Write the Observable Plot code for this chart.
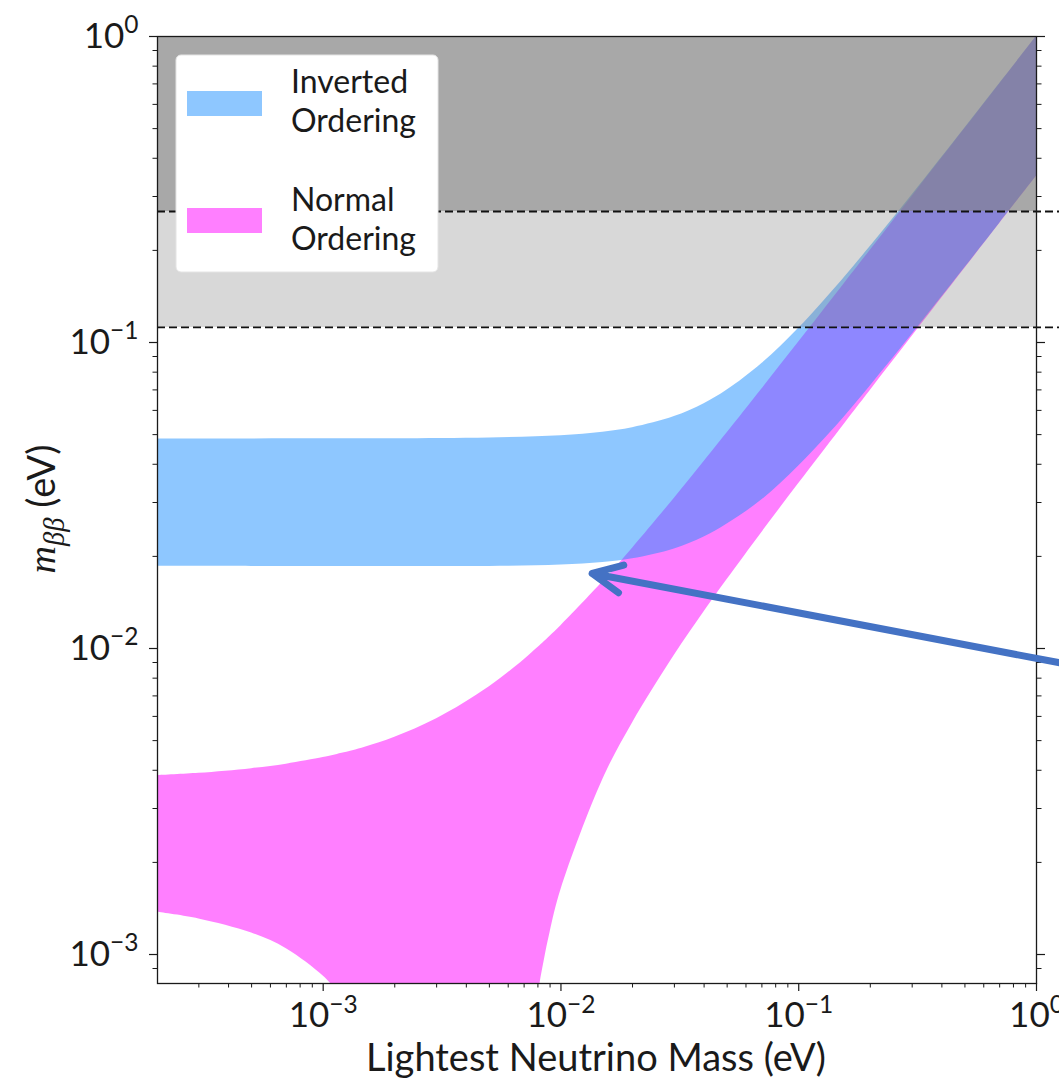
<!DOCTYPE html>
<html>
<head>
<meta charset="utf-8">
<script src="https://cdn.jsdelivr.net/npm/d3@7"></script>
<script src="https://cdn.jsdelivr.net/npm/@observablehq/plot@0.6"></script>
<style>
  html, body { margin: 0; padding: 0; background: #fff; overflow: hidden; }
  #chart { position: relative; width: 1059px; height: 1080px; }
</style>
</head>
<body>
<div id="chart"></div>
<script>
// Normal ordering: lightest neutrino mass (eV) with lower / upper m_ββ (eV)
const massNO  = [2e-4, 3e-4, 5e-4, 7e-4, 1e-3, 1.1e-3, 1.2e-3, 1.5e-3, 2e-3, 3e-3, 5e-3, 7e-3, 8e-3, 8.5e-3, 9e-3, 1e-2, 1.5e-2, 2e-2, 3e-2, 4e-2, 5e-2, 7e-2, 0.1, 0.15, 0.2, 0.3, 0.5, 0.7, 1];
const upperNO = [3.844e-3, 3.912e-3, 4.050e-3, 4.189e-3, 4.401e-3, 4.472e-3, 4.544e-3, 4.760e-3, 5.128e-3, 5.889e-3, 7.496e-3, 9.197e-3, 1.0074e-2, 1.0518e-2, 1.0966e-2, 1.1869e-2, 1.6513e-2, 2.1282e-2, 3.0989e-2, 4.0806e-2, 5.0679e-2, 7.0513e-2, 0.10037, 0.15025, 0.20019, 0.30013, 0.50008, 0.70006, 1.00004];
// below the axis floor the band reaches zero; 1e-4 stands in for it
const lowerNO = [1.374e-3, 1.307e-3, 1.175e-3, 1.044e-3, 8.51e-4, 7.87e-4, 7.24e-4, 5.35e-4, 2.27e-4, 1e-4, 1e-4, 2.5e-4, 7.23e-4, 9.53e-4, 1.181e-3, 1.627e-3, 3.731e-3, 5.710e-3, 9.499e-3, 1.3178e-2, 1.680e-2, 2.396e-2, 3.459e-2, 5.219e-2, 6.973e-2, 0.10475, 0.17472, 0.24467, 0.34956];

// Inverted ordering
const massIO  = [2e-4, 5e-4, 1e-3, 2e-3, 5e-3, 1e-2, 1.5e-2, 2e-2, 3e-2, 4e-2, 5e-2, 7e-2, 0.1, 0.15, 0.2, 0.3, 0.5, 0.7, 1];
const upperIO = [0.04840, 0.04841, 0.04843, 0.04848, 0.04875, 0.04959, 0.05090, 0.05264, 0.05725, 0.06311, 0.06990, 0.08538, 0.11132, 0.15778, 0.20590, 0.30396, 0.50239, 0.70171, 1.00120];
const lowerIO = [0.01856, 0.01855, 0.01855, 0.01854, 0.01855, 0.01873, 0.01909, 0.01963, 0.02115, 0.02315, 0.02551, 0.03060, 0.03950, 0.05530, 0.07209, 0.10634, 0.17568, 0.24535, 0.35004];

// Experimental limits on m_ββ (eV)
const limits = [0.112, 0.268];

// Axis decades and legend entries
const xDecades = [1e-3, 1e-2, 1e-1, 1];
const yDecades = [1e-3, 1e-2, 1e-1, 1];
const legendEntries = [["Inverted", "Ordering"], ["Normal", "Ordering"]];

// Annotation arrow (data units): tail off to the right, tip at the IO/NO junction
const pointer = [{x1: 1.55, y1: 0.0087, x2: 0.01353, y2: 0.01759}];

const colorIO = "#1e90ff";
const colorNO = "#ff00ff";
const xDomain = [2.01e-4, 1];
const yDomain = [8.04e-4, 1];

function minorTicks([lo, hi]) {
  const out = [];
  for (let k = Math.floor(Math.log10(lo)); k < Math.ceil(Math.log10(hi)); k++) {
    for (let m = 2; m <= 9; m++) {
      const v = m * Math.pow(10, k);
      if (v >= lo && v <= hi) out.push(v);
    }
  }
  return out;
}
const expLabel = d => String(Math.round(Math.log10(d))).replace("-", "\u2212");
const blank = () => "";

const no = massNO.map((m, i) => ({m, lo: lowerNO[i], hi: upperNO[i]}));
const io = massIO.map((m, i) => ({m, lo: lowerIO[i], hi: upperIO[i]}));

const plot = Plot.plot({
  width: 1059,
  height: 1080,
  marginLeft: 157,
  marginRight: 23,
  marginTop: 36,
  marginBottom: 97,
  x: {type: "log", domain: xDomain, axis: null},
  y: {type: "log", domain: yDomain, axis: null},
  style: {fontFamily: "Lato, sans-serif", color: "#1a1a1a", background: "white"},
  marks: [
    Plot.areaY(no, {x: "m", y1: "lo", y2: "hi", fill: colorNO, fillOpacity: 0.5, curve: "catmull-rom", clip: true}),
    Plot.areaY(io, {x: "m", y1: "lo", y2: "hi", fill: colorIO, fillOpacity: 0.5, curve: "catmull-rom", clip: true}),
    Plot.rect([0], {x1: xDomain[0], x2: xDomain[1], y1: limits[0], y2: limits[1], fill: "#808080", fillOpacity: 0.307}),
    Plot.rect([0], {x1: xDomain[0], x2: xDomain[1], y1: limits[1], y2: yDomain[1], fill: "#808080", fillOpacity: 0.685}),
    Plot.ruleY(limits, {x1: xDomain[0], x2: 1.4, stroke: "#111", strokeWidth: 1.8, strokeDasharray: "8,4"}),
    Plot.axisX(xDecades, {anchor: "bottom", tickSize: 8, tickPadding: 11, fontSize: 35, tickFormat: expLabel, label: null, strokeWidth: 1.2}),
    Plot.axisX(minorTicks(xDomain), {anchor: "bottom", tickSize: 4.5, tickFormat: blank, label: null, strokeWidth: 1}),
    Plot.axisY(yDecades, {anchor: "left", tickSize: 8, tickPadding: 11, fontSize: 35, tickFormat: expLabel, label: null, strokeWidth: 1.2}),
    Plot.axisY(minorTicks(yDomain), {anchor: "left", tickSize: 4.5, tickFormat: blank, label: null, strokeWidth: 1}),
    Plot.axisY(yDecades, {anchor: "right", tickSize: 8, tickFormat: blank, label: null, strokeWidth: 1.2}),
    Plot.axisY(minorTicks(yDomain), {anchor: "right", tickSize: 4.5, tickFormat: blank, label: null, strokeWidth: 1}),
    Plot.frame({stroke: "#1a1a1a", strokeWidth: 1.3}),
    Plot.arrow(pointer, {x1: "x1", y1: "y1", x2: "x2", y2: "y2", stroke: "#4472c4", strokeWidth: 7, headLength: 7, headAngle: 51, strokeLinecap: "round", strokeLinejoin: "round"})
  ]
});

const svg = d3.select(plot);

// Tick labels as powers of ten with a raised exponent
svg.selectAll('g[aria-label="x-axis tick label"] text, g[aria-label="y-axis tick label"] text').each(function () {
  const e = this.textContent;
  if (!e) return;
  const t = d3.select(this);
  t.text(null);
  t.append("tspan").text("10");
  t.append("tspan").attr("font-size", "0.7em").attr("dy", "-0.6em").text(e);
});

// Axis titles
svg.append("text")
  .attr("x", 596).attr("y", 1071)
  .attr("text-anchor", "middle")
  .attr("font-size", 38)
  .attr("fill", "#1a1a1a")
  .text("Lightest Neutrino Mass (eV)");

const yl = svg.append("text")
  .attr("transform", "translate(55,509) rotate(-90)")
  .attr("text-anchor", "middle")
  .attr("font-size", 38)
  .attr("fill", "#1a1a1a");
yl.append("tspan").attr("font-family", "'Liberation Serif', serif").attr("font-style", "italic").text("m");
yl.append("tspan").attr("font-family", "'Liberation Serif', serif").attr("font-style", "italic")
  .attr("font-size", "0.75em").attr("dy", "0.3em").text("ββ");
yl.append("tspan").attr("dy", "-0.225em").text(" (eV)");

// Legend
const lg = svg.append("g").attr("fill", "#1a1a1a").attr("font-size", 32).attr("text-anchor", "start");
lg.append("rect").attr("x", 176).attr("y", 55).attr("width", 262).attr("height", 217)
  .attr("rx", 5).attr("fill", "white").attr("stroke", "#e4e4e4");
[colorIO, colorNO].forEach((c, i) => {
  const top = i === 0 ? 91 : 208;
  lg.append("rect").attr("x", 187).attr("y", top).attr("width", 75).attr("height", 25)
    .attr("fill", c).attr("fill-opacity", 0.5);
  const base = i === 0 ? 93 : 211;
  legendEntries[i].forEach((line, j) => {
    lg.append("text").attr("x", 291).attr("y", base + j * 39).text(line);
  });
});

document.getElementById("chart").appendChild(plot);
</script>
</body>
</html>
